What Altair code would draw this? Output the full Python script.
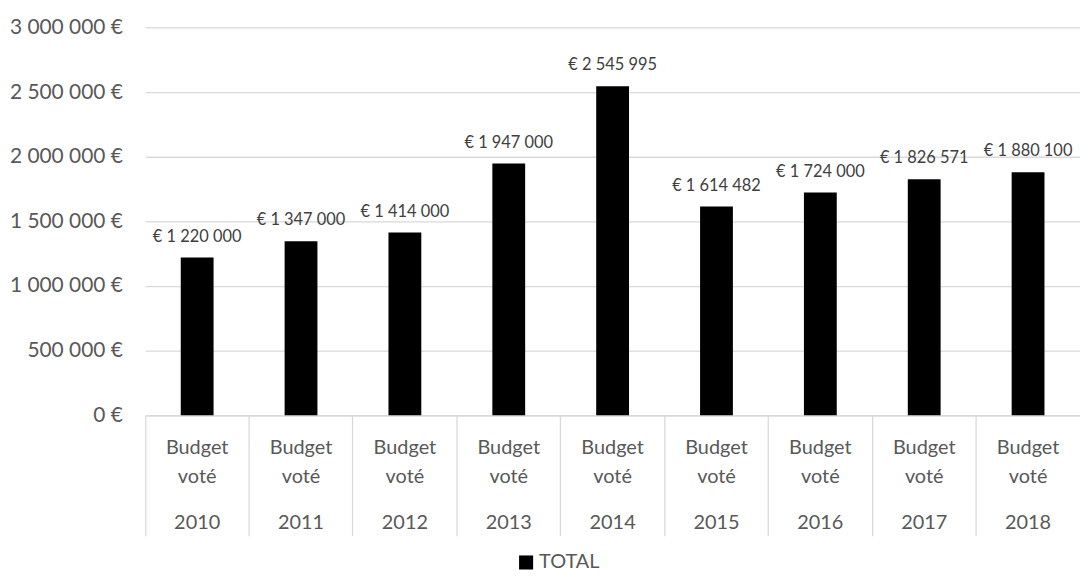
import altair as alt
import pandas as pd

years = ["2010", "2011", "2012", "2013", "2014", "2015", "2016", "2017", "2018"]
values = [1220000, 1347000, 1414000, 1947000, 2545995, 1614482, 1724000, 1826571, 1880100]
category = "Budget voté"
series = "TOTAL"
y_ticks = [0, 500000, 1000000, 1500000, 2000000, 2500000, 3000000]

FONT = "Lato"
W, H = 940, 390

df = pd.DataFrame({
    "year": years,
    "value": values,
    "serie": [series] * len(years),
    "label": ["€ " + f"{v:,}".replace(",", " ") for v in values],
    "l1": [category.split(" ")[0]] * len(years),
    "l2": [category.split(" ")[1]] * len(years),
})

x = alt.X("year:N", sort=years,
          scale=alt.Scale(type="band", paddingInner=0, paddingOuter=0),
          axis=alt.Axis(labels=False, title=None, ticks=True, bandPosition=0,
                        tickSize=121, tickColor="#d9d9d9", tickWidth=1.3,
                        domainColor="#d9d9d9", domainWidth=1.3, grid=False))

y = alt.Y("value:Q", scale=alt.Scale(domain=[0, 3000000], nice=False),
          axis=alt.Axis(title=None, values=y_ticks, ticks=False, domain=False,
                        labelPadding=23, labelFont=FONT, labelFontSize=21,
                        labelColor="#595959", gridColor="#d9d9d9", gridWidth=1.3,
                        labelExpr="replace(format(datum.value, ','), regexp(',', 'g'), ' ') + ' €'"))

base = alt.Chart(df)

bars = base.mark_bar(size=33).encode(
    x=x, y=y,
    color=alt.Color("serie:N", scale=alt.Scale(domain=[series], range=["#000000"]),
                    legend=alt.Legend(title=None, orient="none", legendX=373, legendY=528,
                                      symbolType="square", symbolSize=200,
                                      symbolStrokeWidth=0, labelFont=FONT,
                                      labelFontSize=20, labelColor="#595959",
                                      labelOffset=3)),
)

labels = base.mark_text(font=FONT, fontSize=16.5, color="#404040",
                        baseline="alphabetic", dy=-16).encode(
    x=alt.X("year:N", sort=years), y="value:Q", text="label:N")

t1 = base.mark_text(font=FONT, fontSize=20, color="#595959", baseline="middle").encode(
    x=alt.X("year:N", sort=years), y=alt.value(423), text="l1:N")
t2 = base.mark_text(font=FONT, fontSize=20, color="#595959", baseline="middle").encode(
    x=alt.X("year:N", sort=years), y=alt.value(452), text="l2:N")
t3 = base.mark_text(font=FONT, fontSize=20, color="#595959", baseline="middle").encode(
    x=alt.X("year:N", sort=years), y=alt.value(498), text="year:N")

chart = alt.layer(bars, labels, t1, t2, t3).properties(
    width=W, height=H,
    autosize=alt.AutoSizeParams(type="none"),
    padding={"left": 138, "top": 18, "right": 0, "bottom": 158},
).configure_view(stroke=None)

chart.save("out.html", embed_options={"renderer": "svg", "actions": False})
